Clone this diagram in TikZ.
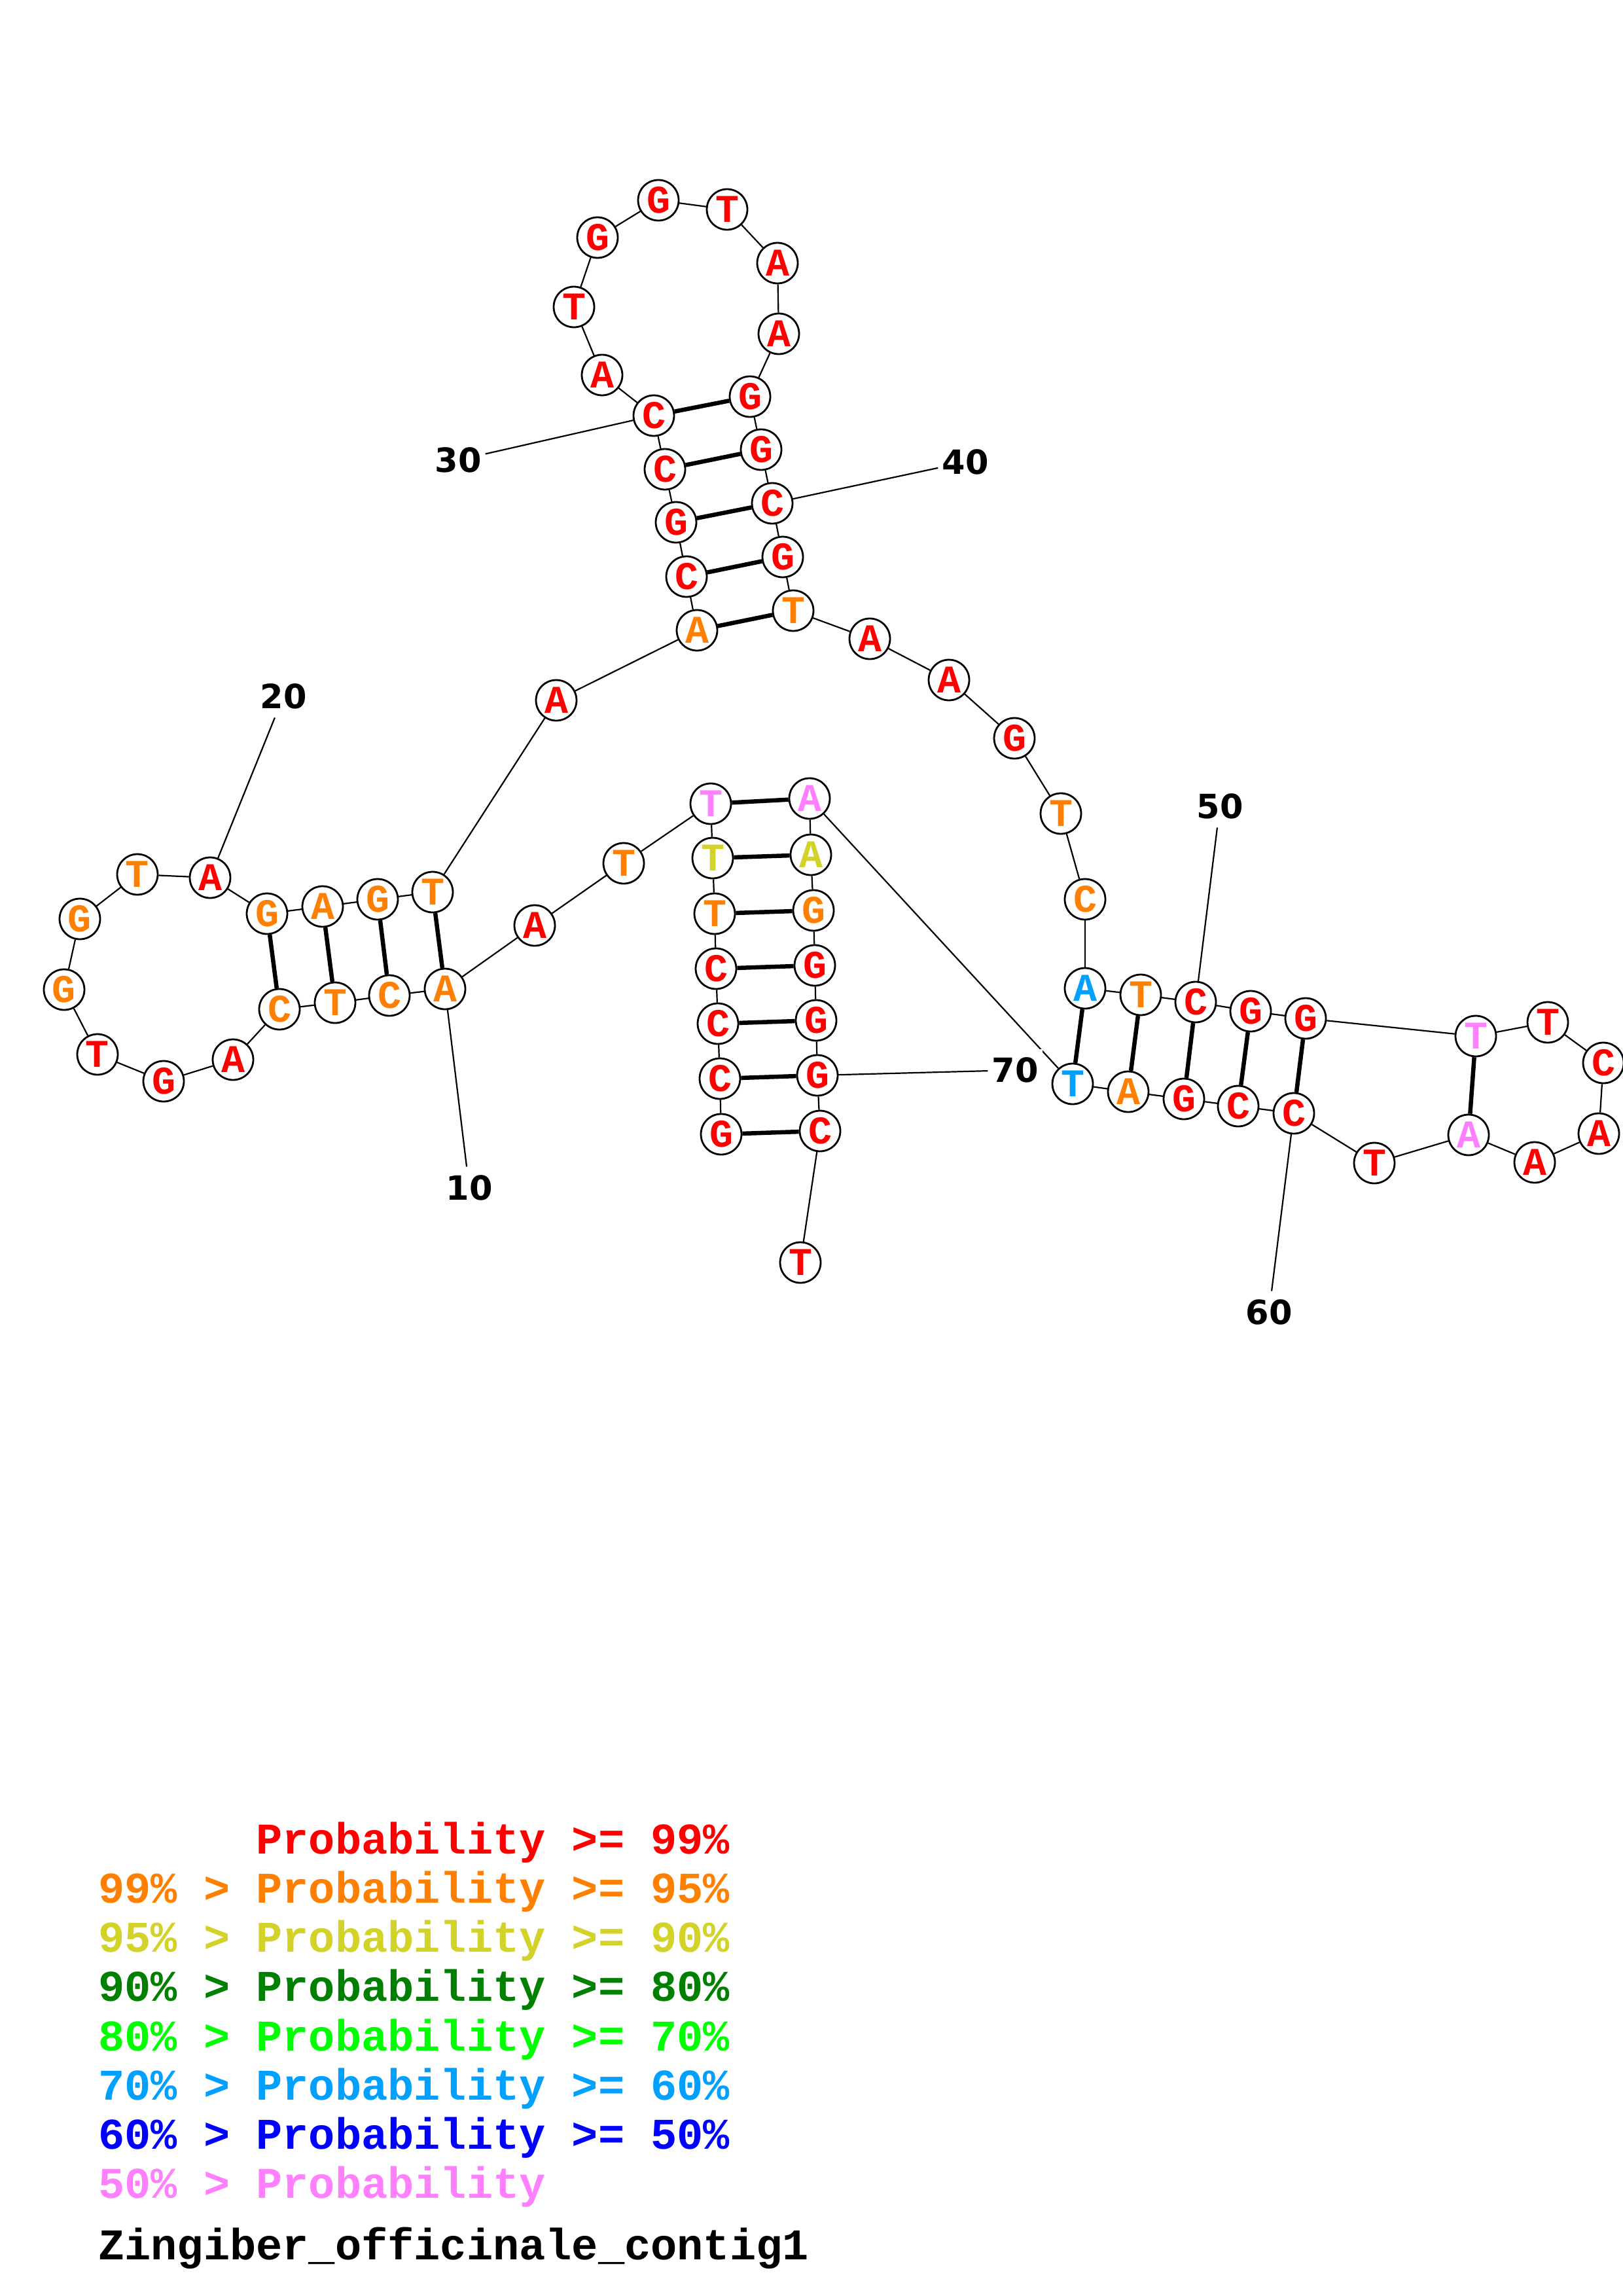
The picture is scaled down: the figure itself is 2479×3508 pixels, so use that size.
\documentclass[tikz,border=0pt]{standalone}
\usepackage{fontspec}
\newfontfamily\monob{Liberation Mono}
\newfontfamily\numf{DejaVu Sans}
\usetikzlibrary{backgrounds}
\definecolor{pR}{RGB}{255,0,0}
\definecolor{pO}{RGB}{255,128,0}
\definecolor{pY}{RGB}{210,210,40}
\definecolor{pDG}{RGB}{0,128,0}
\definecolor{pG}{RGB}{0,255,0}
\definecolor{pLB}{RGB}{0,160,255}
\definecolor{pB}{RGB}{0,0,255}
\definecolor{pP}{RGB}{255,128,255}
\tikzset{
  nt/.style={circle, draw=black, fill=white, line width=2.8pt, minimum size=62pt, inner sep=0pt,
    font=\monob\bfseries\fontsize{60}{60}\selectfont},
  bb/.style={line width=2.2pt},
  pr/.style={line width=6.5pt},
  numlab/.style={fill=white, inner xsep=6pt, inner ysep=13pt, font=\numf\bfseries\fontsize{51}{51}\selectfont},
  leg/.style={anchor=base west, inner sep=0pt, font=\monob\bfseries\fontsize{67}{67}\selectfont},
}
\begin{document}
\begin{tikzpicture}[x=1pt,y=-1pt]
\begin{pgfonlayer}{background}
\fill[white] (0,0) rectangle (2479,3508);
\end{pgfonlayer}
\useasboundingbox (0,0) rectangle (2479,3508);
% bases
\foreach \i/\x/\y/\c/\l in {
 1/1102/1733/R/G, 2/1100/1648/R/C, 3/1097/1564/R/C, 4/1094/1480/R/C, 5/1092/1396/O/T,
 6/1089/1311/Y/T, 7/1086/1228/P/T, 8/953/1319/O/T, 9/817/1414/R/A, 10/680/1511/O/A,
 11/595/1521/O/C, 12/512/1532/O/T, 13/427/1542/O/C, 14/356/1619/R/A, 15/250/1652/R/G,
 16/149/1611/R/T, 17/98/1512/O/G, 18/122/1404/O/G, 19/210/1336/O/T, 20/321/1341/R/A,
 21/408/1396/O/G, 22/493/1385/O/A, 23/577/1374/O/G, 24/661/1363/O/T, 25/850/1070/R/A,
 26/1065/963/O/A, 27/1049/881/R/C, 28/1033/798/R/G, 29/1016/717/R/C, 30/999/635/R/C,
 31/920/573/R/A, 32/877/469/R/T, 33/913/363/R/G, 34/1006/306/R/G, 35/1111/320/R/T,
 36/1188/402/R/A, 37/1190/510/R/A, 38/1146/606/R/G, 39/1163/687/R/G, 40/1180/769/R/C,
 41/1196/851/R/G, 42/1212/933/O/T, 43/1329/976/R/A, 44/1450/1039/R/A, 45/1550/1128/R/G,
 46/1621/1243/O/T, 47/1658/1374/O/C, 48/1658/1510/LB/A, 49/1743/1520/O/T, 50/1827/1531/R/C,
 51/1911/1545/R/G, 52/1995/1556/R/G, 53/2255/1583/P/T, 54/2365/1562/R/T, 55/2450/1624/R/C,
 56/2443/1732/R/A, 57/2345/1776/R/A, 58/2244/1734/P/A, 59/2100/1777/R/T, 60/1977/1701/R/C,
 61/1892/1690/R/C, 62/1809/1679/R/G, 63/1724/1668/O/A, 64/1639/1656/LB/T, 65/1237/1220/P/A,
 66/1239/1306/Y/A, 67/1243/1391/O/G, 68/1245/1475/R/G, 69/1247/1559/R/G, 70/1249/1643/R/G,
 71/1253/1728/R/C, 72/1223/1929/R/T}
 \node[nt, text=p\c] (n\i) at (\x,\y) {\l};
% number labels
\node[numlab] (l10) at (717,1815) {10};
\node[numlab] (l20) at (433,1064) {20};
\node[numlab] (l30) at (700,703) {30};
\node[numlab] (l40) at (1475,706) {40};
\node[numlab] (l50) at (1864,1232) {50};
\node[numlab] (l60) at (1939,2005) {60};
\node[numlab] (l70) at (1551,1635) {70};
\begin{pgfonlayer}{background}
\foreach \i [evaluate=\i as \j using int(\i+1)] in {1,...,71}
  \draw[bb] (n\i) -- (n\j);
\foreach \a/\b in {1/71,2/70,3/69,4/68,5/67,6/66,7/65,10/24,11/23,12/22,13/21,
  26/42,27/41,28/40,29/39,30/38,48/64,49/63,50/62,51/61,52/60,53/58}
  \draw[pr] (n\a) -- (n\b);
\foreach \i in {10,20,30,40,50,60,70}
  \draw[bb] (n\i.center) -- (l\i);
\end{pgfonlayer}
% legend
\node[leg, text=pR] (g1) at (150,2832) {\phantom{99\%~>~}Probability >= 99\%};
\node[leg, text=pO] (g2) at (150,2907) {99\% > Probability >= 95\%};
\node[leg, text=pY] (g3) at (150,2982) {95\% > Probability >= 90\%};
\node[leg, text=pDG] (g4) at (150,3057) {90\% > Probability >= 80\%};
\node[leg, text=pG] (g5) at (150,3133) {80\% > Probability >= 70\%};
\node[leg, text=pLB] (g6) at (150,3208) {70\% > Probability >= 60\%};
\node[leg, text=pB] (g7) at (150,3283) {60\% > Probability >= 50\%};
\node[leg, text=pP] (g8) at (150,3358) {50\% > Probability};
\node[leg, text=black] (g9) at (150,3452) {Zingiber\_officinale\_contig1};
\end{tikzpicture}
\end{document}
